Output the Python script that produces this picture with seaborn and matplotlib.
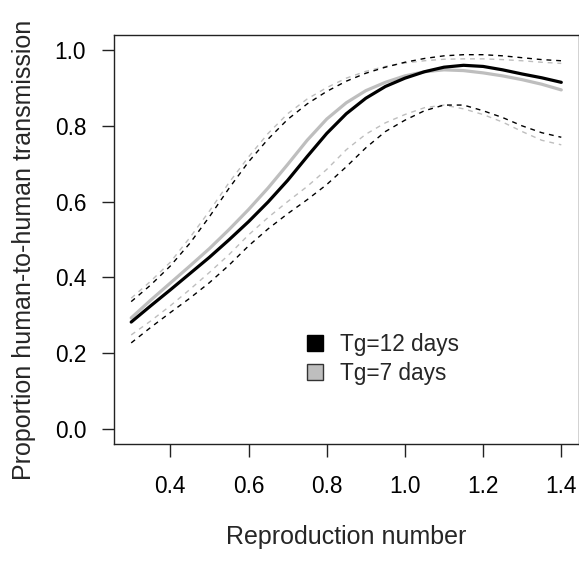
import numpy as np
import pandas as pd
import matplotlib
matplotlib.use("Agg")
import matplotlib.pyplot as plt
from matplotlib.lines import Line2D
import seaborn as sns

# ---- data ----
R = [0.30, 0.35, 0.40, 0.45, 0.50, 0.55, 0.60, 0.65, 0.70, 0.75, 0.80, 0.85,
     0.90, 0.95, 1.00, 1.05, 1.10, 1.15, 1.20, 1.25, 1.30, 1.35, 1.40]

tg12_mean = [0.282, 0.325, 0.367, 0.410, 0.453, 0.499, 0.547, 0.599, 0.656, 0.719,
             0.780, 0.832, 0.873, 0.904, 0.926, 0.943, 0.955, 0.960, 0.957, 0.948,
             0.937, 0.927, 0.915]
tg12_upper = [0.336, 0.380, 0.430, 0.490, 0.560, 0.635, 0.705, 0.765, 0.817, 0.858,
              0.891, 0.918, 0.939, 0.955, 0.968, 0.978, 0.985, 0.988, 0.988, 0.985,
              0.980, 0.975, 0.972]
tg12_lower = [0.227, 0.268, 0.307, 0.345, 0.386, 0.432, 0.483, 0.528, 0.568, 0.605,
              0.645, 0.692, 0.742, 0.785, 0.815, 0.840, 0.855, 0.855, 0.840, 0.822,
              0.800, 0.782, 0.770]

tg7_mean = [0.293, 0.340, 0.385, 0.430, 0.476, 0.526, 0.579, 0.636, 0.698, 0.762,
            0.818, 0.861, 0.893, 0.915, 0.932, 0.943, 0.948, 0.946, 0.940, 0.932,
            0.922, 0.910, 0.895]
tg7_upper = [0.345, 0.390, 0.440, 0.505, 0.575, 0.650, 0.718, 0.780, 0.832, 0.871,
             0.901, 0.926, 0.944, 0.957, 0.966, 0.972, 0.976, 0.977, 0.977, 0.975,
             0.972, 0.968, 0.965]
tg7_lower = [0.248, 0.285, 0.325, 0.368, 0.413, 0.460, 0.512, 0.558, 0.600, 0.640,
             0.685, 0.737, 0.778, 0.808, 0.830, 0.848, 0.855, 0.845, 0.830, 0.810,
             0.785, 0.762, 0.750]

x_ticks = [0.4, 0.6, 0.8, 1.0, 1.2, 1.4]
y_ticks = [0.0, 0.2, 0.4, 0.6, 0.8, 1.0]
legend_labels = ["Tg=12 days", "Tg=7 days"]

# ---- figure ----
sns.set_style("white")
plt.rcParams["font.family"] = ["Liberation Sans", "DejaVu Sans"]

W, H = 579, 561
fig = plt.figure(figsize=(W / 100, H / 100), dpi=100)
ax = fig.add_axes([114 / W, (H - 444) / H, (578.5 - 114) / W, (444 - 35) / H])

GRAY = "#BEBEBE"
dash = (0, (3.5, 3.5))

sns.lineplot(x=R, y=tg7_upper, ax=ax, color=GRAY, lw=1.0, linestyle=dash)
sns.lineplot(x=R, y=tg7_lower, ax=ax, color=GRAY, lw=1.0, linestyle=dash)
sns.lineplot(x=R, y=tg12_upper, ax=ax, color="black", lw=1.0, linestyle=dash)
sns.lineplot(x=R, y=tg12_lower, ax=ax, color="black", lw=1.0, linestyle=dash)
sns.lineplot(x=R, y=tg7_mean, ax=ax, color=GRAY, lw=2.3)
sns.lineplot(x=R, y=tg12_mean, ax=ax, color="black", lw=2.3)

ax.set_xlim(0.3 - 0.044, 1.4 + 0.044)
ax.set_ylim(-0.04, 1.04)
ax.set_xticks(x_ticks)
ax.set_yticks(y_ticks)
ax.set_xticklabels([f"{v:.1f}" for v in x_ticks])
ax.set_yticklabels([f"{v:.1f}" for v in y_ticks])
ax.tick_params(axis="both", direction="out", length=9, width=1.0, color="#222222",
               labelsize=16.3, left=True, bottom=True, labelcolor="black")
ax.tick_params(axis="y", pad=11)
ax.tick_params(axis="x", pad=13)

for s in ax.spines.values():
    s.set_visible(True)
    s.set_color("#222222")
    s.set_linewidth(1.0)

ax.set_xlabel("")
ax.set_ylabel("")
fig.text(346 / W, 1 - 537 / H, "Reproduction number", fontsize=18,
         ha="center", va="center")
fig.text(24 / W, 1 - 250 / H, "Proportion human-to-human transmission",
         fontsize=18, ha="center", va="center", rotation=90)

handles = [
    Line2D([], [], marker="s", linestyle="none", markersize=11,
           markerfacecolor="black", markeredgecolor="black", markeredgewidth=1.0),
    Line2D([], [], marker="s", linestyle="none", markersize=11,
           markerfacecolor=GRAY, markeredgecolor="#333333", markeredgewidth=1.0),
]
ax.legend(handles, legend_labels, loc="upper left", bbox_to_anchor=(0.385, 0.30),
          frameon=False, fontsize=16.3, borderpad=0, handletextpad=0.6,
          labelspacing=0.28, handlelength=1.0)

fig.savefig("out.png", dpi=100)
